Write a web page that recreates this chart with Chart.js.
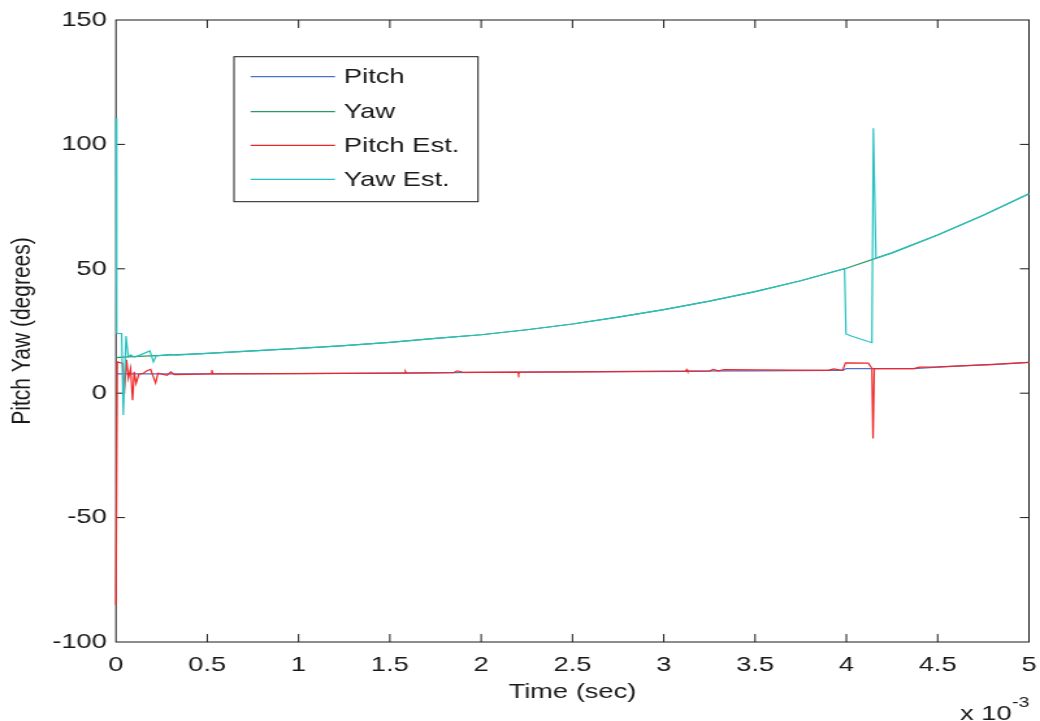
<!DOCTYPE html>
<html>
<head>
<meta charset="utf-8">
<script src="https://cdn.jsdelivr.net/npm/chart.js@4/dist/chart.umd.min.js"></script>
<style>
  html, body { margin: 0; padding: 0; background: #fff; overflow: hidden; }
  #wrap { position: absolute; left: 0; top: 0; width: 800px; height: 721px; transform: scaleX(1.3); transform-origin: 0 0; }
  canvas { display: block; }
</style>
</head>
<body>
<div id="wrap"><canvas id="c"></canvas></div>
<script>
// ---- data (time in units of 10^-3 s, angles in degrees) ----
const seriesNames = ["Pitch", "Yaw", "Pitch Est.", "Yaw Est."];
const xTickValues = [0, 0.5, 1, 1.5, 2, 2.5, 3, 3.5, 4, 4.5, 5];
const yTickValues = [-100, -50, 0, 50, 100, 150];

const pitchT = [0, 0.5, 1, 1.5, 2, 2.5, 3, 3.5, 3.9, 3.98, 4.0, 4.37, 4.5, 4.66, 4.8, 5];
const pitchV = [7.8, 7.8, 7.9, 8.1, 8.4, 8.6, 8.9, 9.0, 9.2, 9.2, 9.9, 9.9, 10.5, 11.1, 11.5, 12.4];

const yawT = [0, 0.06, 0.25, 0.5, 0.75, 1, 1.25, 1.5, 1.75, 2, 2.25, 2.5, 2.75, 3, 3.25, 3.5, 3.75, 4, 4.25, 4.5, 4.75, 5];
const yawV = [14.3, 14.6, 15.2, 16.0, 17.0, 18.0, 19.1, 20.4, 22.0, 23.5, 25.5, 27.8, 30.6, 33.6, 37.0, 40.8, 45.2, 50.2, 56.4, 63.6, 71.5, 80.2];

const pitchEstT = [0, 0.007, 0.037, 0.045, 0.058, 0.068, 0.08, 0.091, 0.1, 0.11, 0.125, 0.15, 0.17, 0.19, 0.2, 0.217, 0.23, 0.28, 0.3, 0.32, 0.52, 0.525, 0.53, 1.58, 1.585, 1.59, 1.85, 1.87, 1.9, 2.2, 2.205, 2.21, 3.12, 3.125, 3.13, 3.25, 3.27, 3.3, 3.33, 3.9, 3.93, 3.96, 3.98, 3.995, 4.12, 4.14, 4.146, 4.153, 4.16, 4.37, 4.4, 4.5, 4.66, 4.8, 5];
const pitchEstV = [-85, 12.6, 12.0, 0, 13.4, 6, 10, -2.8, 8.6, 3.9, 7.6, 8.0, 9.0, 9.6, 7.5, 4.1, 8.0, 7.2, 8.6, 7.5, 7.8, 9.3, 7.8, 8.1, 8.8, 8.1, 8.3, 9.0, 8.4, 8.5, 7.6, 8.5, 8.8, 9.5, 8.8, 8.9, 9.6, 9.0, 9.5, 9.2, 9.8, 9.4, 9.3, 12.2, 12.1, 10.0, -18.2, 9.9, 9.9, 9.9, 10.5, 10.6, 11.1, 11.6, 12.4];

const yawEstT = [0, 0.004, 0.031, 0.04, 0.055, 0.067, 0.08, 0.1, 0.12, 0.186, 0.205, 0.22, 0.25, 0.3, 0.33, 0.5, 0.75, 1, 1.25, 1.5, 1.75, 2, 2.25, 2.5, 2.75, 3, 3.25, 3.5, 3.75, 3.99, 3.998, 4.03, 4.14, 4.148, 4.162, 4.25, 4.5, 4.75, 5];
const yawEstV = [110.5, 24.0, 24.0, -8.8, 23.0, 14.6, 15.4, 14.5, 15.0, 17.0, 12.6, 15.0, 15.2, 15.6, 15.3, 16.0, 17.0, 18.0, 19.1, 20.4, 22.0, 23.5, 25.5, 27.8, 30.6, 33.6, 37.0, 40.8, 45.2, 50.1, 23.8, 22.9, 20.3, 106.5, 54.3, 56.4, 63.6, 71.5, 80.2];

const seriesColors = ["#4f6fcc", "#2a9a62", "#f02626", "#26c0c0"];

const pts = (t, v) => t.map((x, i) => ({ x: x, y: v[i] }));
const FONT = "'Liberation Sans', Arial, Helvetica, sans-serif";
const INK = "#1a1a1a";

const boxPlugin = {
  id: "matlabBox",
  beforeDatasetsDraw(chart) {
    const { ctx, chartArea: a, scales } = chart;
    ctx.save();
    ctx.strokeStyle = INK;
    ctx.lineWidth = 1;
    ctx.strokeRect(a.left, a.top, a.right - a.left, a.bottom - a.top);
    ctx.beginPath();
    scales.x.ticks.forEach(t => {
      const px = scales.x.getPixelForValue(t.value);
      if (Math.abs(px - a.left) < 1 || Math.abs(px - a.right) < 1) return;
      ctx.moveTo(px, a.bottom); ctx.lineTo(px, a.bottom - 8);
      ctx.moveTo(px, a.top); ctx.lineTo(px, a.top + 8);
    });
    scales.y.ticks.forEach(t => {
      const py = scales.y.getPixelForValue(t.value);
      if (Math.abs(py - a.top) < 1 || Math.abs(py - a.bottom) < 1) return;
      ctx.moveTo(a.left, py); ctx.lineTo(a.left + 7, py);
      ctx.moveTo(a.right, py); ctx.lineTo(a.right - 7, py);
    });
    ctx.stroke();
    ctx.restore();
  },
  afterDraw(chart) {
    const ctx = chart.ctx;
    ctx.save();
    // legend box
    const bx = 180, by = 56.7, bw = 187.7, bh = 145;
    ctx.fillStyle = "#fff";
    ctx.fillRect(bx, by, bw, bh);
    ctx.strokeStyle = INK;
    ctx.lineWidth = 1;
    ctx.strokeRect(bx, by, bw, bh);
    const rows = [76.7, 111.7, 145.3, 179.3];
    ctx.font = "21px " + FONT;
    ctx.textBaseline = "middle";
    ctx.textAlign = "left";
    seriesNames.forEach((n, i) => {
      ctx.strokeStyle = seriesColors[i];
      ctx.lineWidth = 1.2;
      ctx.beginPath();
      ctx.moveTo(192.8, rows[i]); ctx.lineTo(257.7, rows[i]);
      ctx.stroke();
      ctx.fillStyle = INK;
      ctx.fillText(n, 264.6, rows[i] + 1);
    });
    // exponent label
    ctx.textBaseline = "alphabetic";
    ctx.font = "21px " + FONT;
    ctx.fillText("x 10", 738.5, 719.5);
    ctx.font = "15px " + FONT;
    ctx.fillText("-3", 778.5, 706.5);
    ctx.restore();
  }
};

const mk = (i, t, v, order) => ({
  label: seriesNames[i],
  data: pts(t, v),
  borderColor: seriesColors[i],
  backgroundColor: seriesColors[i],
  borderWidth: 1.2,
  pointRadius: 0,
  tension: 0,
  fill: false,
  clip: false,
  order: order
});

new Chart(document.getElementById("c"), {
  type: "line",
  data: {
    datasets: [
      mk(0, pitchT, pitchV, 3),
      mk(1, yawT, yawV, 2),
      mk(2, pitchEstT, pitchEstV, 1),
      mk(3, yawEstT, yawEstV, 0)
    ]
  },
  options: {
    responsive: true,
    maintainAspectRatio: false,
    animation: false,
    events: [],
    layout: { padding: { left: 0, right: 8.5, top: 20, bottom: 0 } },
    plugins: { legend: { display: false }, tooltip: { enabled: false } },
    scales: {
      x: {
        type: "linear",
        min: 0, max: 5,
        afterBuildTicks: s => { s.ticks = xTickValues.map(v => ({ value: v })); },
        afterFit: s => { s.height = 79; s.paddingLeft = 0; s.paddingRight = 0; },
        grid: { display: false, drawTicks: false },
        border: { display: false },
        ticks: {
          padding: 11, color: INK, maxRotation: 0, autoSkip: false,
          font: { family: FONT, size: 21 },
          callback: v => String(Number(v.toFixed(2)))
        },
        title: { display: true, text: "Time (sec)", color: INK, font: { family: FONT, size: 21 }, padding: { top: 0, bottom: 16 } }
      },
      y: {
        type: "linear",
        min: -100, max: 150,
        afterBuildTicks: s => { s.ticks = yTickValues.map(v => ({ value: v })); },
        afterFit: s => { s.width = 89.2; s.paddingTop = 0; s.paddingBottom = 0; },
        grid: { display: false, drawTicks: false },
        border: { display: false },
        ticks: { padding: 7, color: INK, autoSkip: false, font: { family: FONT, size: 21 } },
        title: { display: true, text: "Pitch Yaw (degrees)", color: INK, font: { family: FONT, size: 21 }, padding: { top: 5, bottom: 0 } }
      }
    }
  },
  plugins: [boxPlugin]
});
</script>
</body>
</html>
